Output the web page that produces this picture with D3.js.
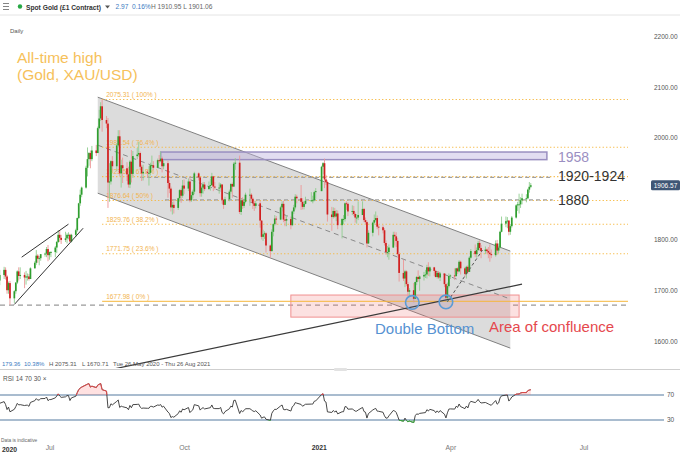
<!DOCTYPE html>
<html><head><meta charset="utf-8">
<script src="https://cdn.jsdelivr.net/npm/d3@7"></script>
<style>
html,body{margin:0;padding:0;background:#fff;}
svg{display:block;font-family:"Liberation Sans",Arial,sans-serif;}
</style></head><body>
<svg id="c" width="680" height="455"></svg>
<script>
// ---------- DATA (daily Spot Gold) ----------
const startDate = "2020-05-01";
const endDate = "2021-05-27";
const holidays = ["2020-12-25", "2021-01-01"];
const firstOpen = 1694;
const close = [
 1700,1702,1706,1686,1725,1702,1697,1702,1716,1731,1743,1733,1745,1748,1726,1735,1728,1710,1708,1719,1730,
 1740,1727,1700,1714,1684,1698,1715,1737,1728,1730,1725,1727,1727,1722,1743,1754,1768,1762,1763,1771,1772,1781,
 1769,1775,1775,1784,1795,1809,1803,1799,1802,1809,1809,1796,1809,1818,1842,1871,1888,1902,1941,1958,1970,1958,1975,
 1970,2019,2038,2062,2035,2028,1912,1914,1954,1944,1985,2003,1930,1946,1940,1928,1908,1953,1929,1964,1967,
 1970,1943,1930,1933,1931,1931,1946,1946,1941,1956,1954,1959,1944,1950,1911,1900,1863,1868,1862,1881,1897,1886,
 1906,1900,1914,1877,1887,1894,1930,1922,1891,1902,1908,1899,1905,1907,1924,1904,1902,1902,1908,1878,1868,1879,
 1894,1909,1904,1949,1951,1854,1877,1866,1874,1888,1888,1880,1871,1866,1871,1837,1805,1810,1812,1788,1777,
 1815,1830,1841,1839,1863,1870,1839,1837,1840,1828,1855,1863,1884,1881,1874,1864,1870,1876,1877,1877,1893,1895,
 1943,1950,1918,1913,1849,1844,1856,1845,1851,1828,1840,1840,1871,1870,1855,1856,1850,1843,1843,1848,
 1860,1838,1834,1792,1813,1833,1838,1842,1825,1824,1818,1793,1775,1775,1784,1809,1806,1797,1771,1734,
 1723,1737,1712,1697,1700,1683,1716,1726,1722,1727,1730,1731,1745,1737,1745,1738,1726,1734,1725,1733,1712,1685,1708,
 1728,1729,1728,1743,1737,1756,1743,1732,1746,1736,1764,1777,1771,1779,1793,1783,1777,1780,1777,1774,1771,1769,
 1792,1778,1784,1815,1831,1836,1837,1815,1826,1843,1867,1869,1869,1877,1881,1881,1898,1903.6,1906.57
];
const high = [
 1703,1715,1711,1709,1728,1722,1716,1710,1718,1734,1744,1765,1748,1752,1750,1738,1737,1735,1716,1725,1740,
 1746,1745,1730,1717,1718,1700,1716,1739,1745,1745,1735,1738,1733,1732,1745,1757,1779,1771,1767,1771,1774,1785,
 1789,1776,1777,1787,1797,1818,1818,1809,1815,1812,1814,1811,1811,1821,1843,1872,1898,1904,1945,1981,1972,1975,1984,
 1986,2022,2055,2070,2075.31,2043,2039,1950,1956,1964,1989,2015,2015,1957,1961,1952,1943,1956,1976,1974,1980,
 1992,1973,1947,1947,1937,1944,1951,1965,1954,1959,1966,1973,1963,1956,1955,1917,1904,1874,1875,1882,1899,1900,
 1917,1918,1920,1922,1894,1898,1933,1932,1923,1906,1913,1913,1914,1920,1931,1925,1913,1912,1911,1909,1880,1884,
 1898,1911,1912,1952,1960,1965,1880,1883,1880,1892,1900,1891,1883,1876,1876,1876,1838,1819,1816,1814,1790,
 1820,1832,1848,1846,1866,1875,1876,1846,1848,1845,1857,1868,1889,1888,1907,1881,1875,1884,1893,1886,1896,1901,
 1945,1952,1959,1927,1916,1864,1863,1862,1858,1857,1842,1848,1873,1875,1873,1867,1866,1853,1850,1875,
 1875,1862,1843,1837,1818,1835,1849,1855,1847,1829,1828,1822,1798,1787,1790,1815,1815,1814,1803,1775,
 1760,1740,1739,1716,1704,1714,1717,1728,1739,1729,1736,1740,1750,1755,1747,1746,1740,1737,1738,1736,1733,1714,1715,
 1733,1731,1743,1744,1745,1759,1758,1746,1748,1749,1767,1781,1790,1784,1797,1798,1789,1786,1782,1785,1790,1780,
 1798,1799,1792,1817,1845,1845,1844,1838,1830,1846,1869,1874,1890,1883,1890,1889,1900,1913,1910.95
];
const low = [
 1680,1690,1693,1683,1685,1698,1692,1692,1699,1711,1728,1725,1727,1739,1718,1717,1725,1697,1693,1701,1710,
 1722,1721,1693,1693,1671,1675,1693,1712,1719,1722,1704,1711,1719,1719,1722,1744,1750,1754,1749,1758,1766,1765,
 1757,1760,1765,1765,1773,1793,1795,1791,1795,1792,1800,1795,1794,1805,1815,1840,1866,1883,1900,1924,1945,1940,1954,
 1964,1970,2017,2033,2012,2019,1862,1874,1908,1936,1934,1981,1925,1902,1911,1915,1902,1901,1912,1921,1958,
 1963,1937,1915,1916,1922,1906,1926,1938,1936,1940,1950,1952,1932,1938,1882,1891,1855,1849,1851,1858,1874,1872,
 1882,1889,1895,1873,1874,1881,1889,1916,1884,1884,1890,1895,1898,1896,1905,1895,1898,1890,1898,1870,1860,1868,
 1875,1890,1882,1903,1937,1850,1848,1860,1862,1871,1866,1873,1860,1856,1861,1823,1800,1797,1801,1774,1764,
 1776,1806,1827,1829,1838,1855,1834,1826,1826,1820,1826,1850,1859,1871,1858,1859,1859,1869,1874,1871,1875,1880,
 1896,1928,1901,1907,1835,1817,1841,1842,1836,1820,1802,1830,1835,1858,1846,1848,1846,1833,1831,1838,
 1851,1834,1830,1784,1791,1806,1829,1835,1820,1808,1812,1788,1770,1765,1760,1783,1788,1785,1768,1717,
 1718,1706,1708,1688,1687,1676,1683,1710,1717,1699,1719,1724,1723,1728,1727,1728,1725,1723,1722,1718,1706,1678,1677,
 1705,1722,1720,1726,1732,1735,1731,1727,1723,1733,1736,1762,1765,1764,1777,1778,1763,1771,1771,1763,1756,1763,
 1766,1770,1773,1782,1814,1824,1822,1808,1809,1823,1841,1856,1851,1862,1869,1873,1879,1892,1901.06
];
// Price / time axis labels
const priceTicks = [1600, 1700, 1800, 2000, 2100, 2200];
const timeTicks = ["2020-07-01", "2020-10-01", "2021-01-01", "2021-04-01", "2021-07-01"];
const timeTickLabels = ["Jul", "Oct", "2021", "Apr", "Jul"];
// Fibonacci retracement levels
const fibValues = [2075.31, 1981.54, 1923.53, 1876.64, 1829.76, 1771.75, 1677.98];
const fibLabels = ["100%", "76.4%", "61.8%", "50%", "38.2%", "23.6%", "0%"];
const rsiLevels = [70, 30];
const lastPrice = 1906.57;
const periodLow = 1670.71;

// ---------- SETUP ----------
const svg = d3.select("#c");
const P = d3.utcParse("%Y-%m-%d");
const fmtD = d3.utcFormat("%Y-%m-%d");
const dates = [];
for (let d = P(startDate); d <= P(endDate); d = d3.utcDay.offset(d, 1)) {
  const wd = d.getUTCDay();
  if (wd === 0 || wd === 6 || holidays.includes(fmtD(d))) continue;
  dates.push(d);
}
const n = Math.min(dates.length, close.length, high.length, low.length);
const bars = d3.range(n).map(i => ({
  d: dates[i], o: i === 0 ? firstOpen : close[i - 1], h: high[i], l: low[i], c: close[i]
}));

const x = d3.scaleUtc().domain([P("2020-07-01"), P("2021-07-01")]).range([48, 582]);
const y = d3.scaleLinear().domain([1600, 2000]).range([341, 137.8]);
const yR = d3.scaleLinear().domain([30, 70]).range([420, 395]);

const defs = svg.append("defs");
defs.append("clipPath").attr("id", "clipMain").append("rect").attr("x", 0).attr("y", 15).attr("width", 628).attr("height", 353);
defs.append("clipPath").attr("id", "clipRsi").append("rect").attr("x", 0).attr("y", 372).attr("width", 664).attr("height", 62);
defs.append("clipPath").attr("id", "clipAbove").append("rect").attr("x", 0).attr("y", 372).attr("width", 664).attr("height", yR(70) - 372);
defs.append("clipPath").attr("id", "clipBelow").append("rect").attr("x", 0).attr("y", yR(30)).attr("width", 664).attr("height", 30);

svg.append("rect").attr("width", 680).attr("height", 455).attr("fill", "#fff");

// ---------- HEADER ----------
const hdr = svg.append("g");
[3.5, 6.5, 9.5].forEach(v => hdr.append("line").attr("x1", 3).attr("x2", 9).attr("y1", v).attr("y2", v).attr("stroke", "#777").attr("stroke-width", 0.9));
hdr.append("circle").attr("cx", 20).attr("cy", 6.5).attr("r", 2.2).attr("fill", "#27a844");
hdr.append("text").attr("x", 26).attr("y", 9.5).attr("font-size", 8).attr("font-weight", "bold").attr("fill", "#333")
  .attr("textLength", 75).attr("lengthAdjust", "spacingAndGlyphs").text("Spot Gold (£1 Contract)");
hdr.append("path").attr("d", "M105,5.5 L110,5.5 L107.5,8.5 Z").attr("fill", "#555");
hdr.append("text").attr("x", 115.5).attr("y", 9.3).attr("font-size", 6.6).attr("fill", "#3b7bbf").text("2.97");
hdr.append("text").attr("x", 132).attr("y", 9.3).attr("font-size", 6.6).attr("fill", "#3b7bbf").text("0.16%");
hdr.append("text").attr("x", 151).attr("y", 9.3).attr("font-size", 6.6).attr("fill", "#666").text("H 1910.95  L 1901.06");
svg.append("line").attr("x1", 0).attr("x2", 680).attr("y1", 15).attr("y2", 15).attr("stroke", "#e4e4e4");
svg.append("text").attr("x", 10).attr("y", 33).attr("font-size", 6).attr("fill", "#555").text("Daily");

// ---------- MAIN PANEL ----------
const g = svg.append("g").attr("clip-path", "url(#clipMain)");

// period low dashed line
g.append("line").attr("x1", 0).attr("x2", 628).attr("y1", y(periodLow)).attr("y2", y(periodLow))
  .attr("stroke", "#9a9a9a").attr("stroke-width", 1.2).attr("stroke-dasharray", "5,4");

// descending channel
const chStart = P("2020-08-04"), chEnd = P("2021-05-13");
const upper = [[chStart, 2080], [chEnd, 1777]];
const lower = [[chStart, 1891], [chEnd, 1586]];
const mid = [[chStart, 1985.5], [chEnd, 1682.5]];
const ln = d3.line().x(d => x(d[0])).y(d => y(d[1]));
g.append("path").attr("d", ln([upper[0], upper[1], lower[1], lower[0]]) + "Z").attr("fill", "#dcdcdc");
g.append("path").attr("d", ln(upper)).attr("stroke", "#808080").attr("stroke-width", 1).attr("fill", "none");
g.append("path").attr("d", ln(lower)).attr("stroke", "#808080").attr("stroke-width", 1).attr("fill", "none");

// area of confluence
g.append("rect").attr("x", x(P("2020-12-14"))).attr("width", x(P("2021-05-19")) - x(P("2020-12-14")))
  .attr("y", y(1690.5)).attr("height", y(1647) - y(1690.5))
  .attr("fill", "rgba(240,120,120,0.22)").attr("stroke", "#f09090").attr("stroke-width", 1);

// channel midline
g.append("path").attr("d", ln(mid)).attr("stroke", "#8a8a8a").attr("stroke-width", 1).attr("stroke-dasharray", "5,4").attr("fill", "none");

// Fibonacci levels
const fibStart = P("2020-08-07");
fibValues.forEach((v, i) => {
  const isZero = i === fibValues.length - 1;
  g.append("line").attr("x1", x(fibStart)).attr("x2", 628).attr("y1", y(v)).attr("y2", y(v))
    .attr("stroke", "#f6b73c").attr("stroke-width", isZero ? 1.3 : 1.1)
    .attr("stroke-dasharray", isZero ? null : "1.2,2.3").attr("opacity", isZero ? 0.8 : 1);
  g.append("text").attr("x", x(fibStart) + 4).attr("y", y(v) - 2.5).attr("font-size", 6.6)
    .attr("fill", "#f2b451").text(d3.format(".2f")(v) + " ( " + fibLabels[i] + " )");
});

// key horizontal levels (dashed gray)
[[P("2020-09-02"), 1922], [P("2020-09-19"), 1878]].forEach(([d, v]) => {
  g.append("line").attr("x1", x(d)).attr("x2", x(P("2021-06-11"))).attr("y1", y(v)).attr("y2", y(v))
    .attr("stroke", "#a0a0a0").attr("stroke-width", 1.2).attr("stroke-dasharray", "4,3");
});

// 1958 resistance zone
g.append("rect").attr("x", x(P("2020-09-16"))).attr("width", x(P("2021-06-07")) - x(P("2020-09-16")))
  .attr("y", y(1972)).attr("height", y(1957) - y(1972))
  .attr("fill", "rgba(190,180,225,0.45)").attr("stroke", "#9a8fc0").attr("stroke-width", 1.5);

// candles
const bw = 1.7;
const cg = g.append("g");
bars.forEach(b => {
  const up = b.c >= b.o;
  const cx = x(b.d);
  const top = Math.max(b.o, b.c), bot = Math.min(b.o, b.c);
  cg.append("line").attr("x1", cx).attr("x2", cx).attr("y1", y(Math.max(b.h, top))).attr("y2", y(Math.min(b.l, bot)))
    .attr("stroke", up ? "#8fcd8f" : "#ec9696").attr("stroke-width", 0.9);
  cg.append("rect").attr("x", cx - bw / 2).attr("width", bw).attr("y", y(top))
    .attr("height", Math.max(0.9, y(bot) - y(top))).attr("fill", up ? "#2f9e2f" : "#d01f1f");
});

// small rising channel (Jun-Jul 2020)
g.append("path").attr("d", ln([[P("2020-06-08"), 1672], [P("2020-07-25"), 1822]]))
  .attr("stroke", "#333").attr("stroke-width", 1).attr("fill", "none");
g.append("path").attr("d", ln([[P("2020-06-13"), 1765], [P("2020-07-15"), 1830]]))
  .attr("stroke", "#333").attr("stroke-width", 1).attr("fill", "none");

// rising support line
g.append("path").attr("d", ln([[P("2020-08-15"), 1545], [P("2021-05-21"), 1712]]))
  .attr("stroke", "#3a3a3a").attr("stroke-width", 1.2).attr("fill", "none");

// dashed rebound line from second bottom
g.append("path").attr("d", ln([[P("2021-03-31"), 1677], [P("2021-04-24"), 1779]]))
  .attr("stroke", "#555").attr("stroke-width", 1).attr("stroke-dasharray", "3,2.5").attr("fill", "none");

// double bottom circles
[[P("2021-03-07"), 1676], [P("2021-03-30"), 1677]].forEach(([d, v]) => {
  g.append("circle").attr("cx", x(d)).attr("cy", y(v)).attr("r", 6.8)
    .attr("fill", "rgba(91,155,213,0.12)").attr("stroke", "#5b9bd5").attr("stroke-width", 1.6);
});

// annotation texts
svg.append("text").attr("x", 17).attr("y", 63).attr("font-size", 15.5).attr("fill", "#f6c15b").text("All-time high");
svg.append("text").attr("x", 17).attr("y", 80).attr("font-size", 15.5).attr("fill", "#f6c15b").text("(Gold, XAU/USD)");
svg.append("text").attr("x", 558).attr("y", 162).attr("font-size", 14).attr("fill", "#9b8fc2").text("1958");
svg.append("text").attr("x", 558).attr("y", 181).attr("font-size", 14).attr("fill", "#333").text("1920-1924");
svg.append("text").attr("x", 558).attr("y", 205).attr("font-size", 14).attr("fill", "#333").text("1880");
svg.append("text").attr("x", 375).attr("y", 334).attr("font-size", 15).attr("fill", "#5592d2").text("Double Bottom");
svg.append("text").attr("x", 489).attr("y", 332).attr("font-size", 15).attr("fill", "#e5484d").text("Area of confluence");

// right price axis
const ax = svg.append("g").attr("transform", "translate(652,0)")
  .call(d3.axisRight(y).tickValues(priceTicks).tickFormat(d3.format(".2f")).tickSize(0).tickPadding(2));
ax.select(".domain").remove();
ax.selectAll("text").attr("font-size", 6.5).attr("fill", "#555").attr("font-family", "Liberation Sans, Arial, sans-serif");

// last price tag
svg.append("rect").attr("x", 651).attr("y", y(lastPrice) - 5).attr("width", 29).attr("height", 10).attr("rx", 1.5).attr("fill", "#3f5675");
svg.append("text").attr("x", 665.5).attr("y", y(lastPrice) + 2.3).attr("text-anchor", "middle").attr("font-size", 6.5).attr("fill", "#fff").text(d3.format(".2f")(lastPrice));

// info row
const info = [["179.36", 2, "#3b7bbf"], ["10.38%", 24, "#3b7bbf"], ["H 2075.31", 49, "#555"], ["L 1670.71", 82, "#555"], ["Tue 26 May 2020 - Thu 26 Aug 2021", 113, "#555"]];
info.forEach(([t, px, col]) => svg.append("text").attr("x", px).attr("y", 366).attr("font-size", 6).attr("fill", col).text(t));

// ---------- RSI PANEL ----------
svg.append("line").attr("x1", 0).attr("x2", 680).attr("y1", 369.5).attr("y2", 369.5).attr("stroke", "#cfcfcf");
svg.append("rect").attr("x", 334).attr("y", 368).attr("width", 13).attr("height", 3).attr("rx", 1).attr("fill", "#e2e2e2");
svg.append("text").attr("x", 3).attr("y", 380.5).attr("font-size", 6.5).attr("fill", "#555").text("RSI  14  70  30  ×");

rsiLevels.forEach(v => {
  svg.append("line").attr("x1", 0).attr("x2", 664).attr("y1", yR(v)).attr("y2", yR(v)).attr("stroke", "#a9bccf").attr("stroke-width", 2);
  svg.append("text").attr("x", 667).attr("y", yR(v) + 2.3).attr("font-size", 6.5).attr("fill", "#555").text(v);
});

// RSI(14), Wilder smoothing of the closes above
const per = 14;
const rsi = new Array(n).fill(null);
let ag = 0, al = 0;
for (let i = 1; i <= per; i++) { const dd = close[i] - close[i - 1]; if (dd > 0) ag += dd; else al -= dd; }
ag /= per; al /= per; rsi[per] = 100 - 100 / (1 + ag / al);
for (let i = per + 1; i < n; i++) {
  const dd = close[i] - close[i - 1];
  ag = (ag * (per - 1) + Math.max(dd, 0)) / per;
  al = (al * (per - 1) + Math.max(-dd, 0)) / per;
  rsi[i] = al === 0 ? 100 : 100 - 100 / (1 + ag / al);
}
const rpts = bars.map((b, i) => ({ d: b.d, v: rsi[i] })).filter(p => p.v !== null);
const rline = d3.line().x(p => x(p.d)).y(p => yR(p.v));
const rg = svg.append("g").attr("clip-path", "url(#clipRsi)");
rg.append("path").attr("d", rline(rpts)).attr("fill", "none").attr("stroke", "#333").attr("stroke-width", 0.9);
const ra = rg.append("g").attr("clip-path", "url(#clipAbove)");
ra.append("path").attr("d", d3.area().x(p => x(p.d)).y0(yR(70)).y1(p => yR(p.v))(rpts)).attr("fill", "rgba(255,90,90,0.18)");
ra.append("path").attr("d", rline(rpts)).attr("fill", "none").attr("stroke", "#f04848").attr("stroke-width", 0.9);
const rb = rg.append("g").attr("clip-path", "url(#clipBelow)");
rb.append("path").attr("d", d3.area().x(p => x(p.d)).y0(yR(30)).y1(p => yR(p.v))(rpts)).attr("fill", "rgba(80,200,80,0.18)");
rb.append("path").attr("d", rline(rpts)).attr("fill", "none").attr("stroke", "#3bb33b").attr("stroke-width", 0.9);

svg.append("text").attr("x", 1).attr("y", 442).attr("font-size", 4.8).attr("fill", "#666").text("Data is indicative");

// bottom time axis
const bx = svg.append("g").attr("transform", "translate(1.5,443.5)")
  .call(d3.axisBottom(x).tickValues(timeTicks.map(P)).tickFormat((d, i) => timeTickLabels[i]).tickSize(0).tickPadding(2));
bx.select(".domain").remove();
bx.selectAll("text").attr("font-size", 6.8).attr("font-family", "Liberation Sans, Arial, sans-serif")
  .attr("fill", (d, i) => timeTickLabels[i].length === 4 ? "#333" : "#777")
  .attr("font-weight", (d, i) => timeTickLabels[i].length === 4 ? "bold" : "normal");
svg.append("text").attr("x", 2).attr("y", 452).attr("font-size", 6.8).attr("font-weight", "bold").attr("fill", "#333").text("2020");
</script>
</body></html>
